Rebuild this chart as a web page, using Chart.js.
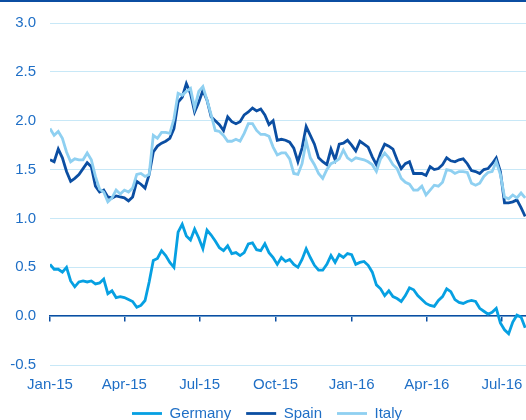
<!DOCTYPE html>
<html>
<head>
<meta charset="utf-8">
<script src="https://cdn.jsdelivr.net/npm/chart.js@4/dist/chart.umd.min.js"></script>
<style>
  html, body { margin: 0; padding: 0; background: #fff; }
  .wrap { position: relative; width: 526px; height: 420px; }
  .topbar { position: absolute; left: 0; top: 0; width: 526px; height: 2px; background: #0b4ea2; }
</style>
</head>
<body>
<div class="wrap">
  <canvas id="chart"></canvas>
  <div class="topbar"></div>
</div>
<script>
// days since 1 Jan 2015, one reading every 5 days
const days = [0,5,10,15,20,25,30,35,40,45,50,55,60,65,70,75,80,85,90,95,
  100,105,110,115,120,125,130,135,140,145,150,155,160,165,170,175,180,185,190,195,
  200,205,210,215,220,225,230,235,240,245,250,255,260,265,270,275,280,285,290,295,
  300,305,310,315,320,325,330,335,340,345,350,355,360,365,370,375,380,385,390,395,
  400,405,410,415,420,425,430,435,440,445,450,455,460,465,470,475,480,485,490,495,
  500,505,510,515,520,525,530,535,540,545,550,555,560,565,570,575];

const germany = [0.53,0.48,0.48,0.45,0.50,0.36,0.30,0.35,0.36,0.35,
  0.36,0.33,0.34,0.38,0.23,0.26,0.19,0.20,0.19,0.17,
  0.15,0.09,0.11,0.16,0.35,0.57,0.59,0.67,0.62,0.55,
  0.50,0.86,0.94,0.82,0.78,0.89,0.80,0.69,0.88,0.83,
  0.77,0.70,0.67,0.72,0.64,0.65,0.62,0.65,0.74,0.75,
  0.68,0.67,0.74,0.65,0.60,0.53,0.60,0.56,0.58,0.53,
  0.50,0.58,0.69,0.60,0.52,0.47,0.47,0.53,0.62,0.55,
  0.63,0.60,0.64,0.63,0.53,0.55,0.56,0.52,0.45,0.32,
  0.28,0.21,0.26,0.20,0.18,0.15,0.21,0.29,0.27,0.21,
  0.17,0.13,0.11,0.10,0.16,0.20,0.28,0.25,0.17,0.14,
  0.13,0.15,0.16,0.15,0.08,0.05,0.02,0.04,0.08,-0.07,
  -0.14,-0.18,-0.06,0.01,-0.01,-0.12];

const spain = [1.60,1.58,1.71,1.62,1.48,1.38,1.41,1.45,1.51,1.57,
  1.53,1.33,1.27,1.29,1.22,1.21,1.23,1.22,1.21,1.18,
  1.22,1.38,1.35,1.31,1.45,1.68,1.74,1.77,1.79,1.82,
  1.92,2.19,2.24,2.38,2.28,2.09,2.19,2.31,2.21,2.04,
  2.00,1.96,1.90,2.04,1.99,1.97,1.99,2.06,2.09,2.13,
  2.10,2.12,2.06,1.96,2.00,1.80,1.81,1.80,1.78,1.72,
  1.58,1.72,1.94,1.85,1.76,1.62,1.58,1.55,1.71,1.60,
  1.76,1.77,1.80,1.75,1.69,1.79,1.76,1.73,1.63,1.55,
  1.67,1.76,1.74,1.71,1.60,1.51,1.56,1.58,1.46,1.46,
  1.46,1.44,1.53,1.50,1.51,1.55,1.62,1.59,1.58,1.60,
  1.61,1.56,1.49,1.48,1.46,1.50,1.51,1.56,1.62,1.48,
  1.16,1.16,1.17,1.19,1.11,1.02];

const italy = [1.92,1.85,1.89,1.82,1.68,1.58,1.61,1.60,1.60,1.67,
  1.60,1.43,1.30,1.27,1.17,1.21,1.29,1.25,1.29,1.27,
  1.31,1.45,1.46,1.43,1.45,1.85,1.82,1.88,1.88,1.87,
  2.02,2.28,2.26,2.30,2.33,2.13,2.30,2.35,2.21,2.06,
  1.90,1.89,1.85,1.79,1.79,1.81,1.79,1.87,1.97,1.97,
  1.90,1.86,1.86,1.84,1.73,1.65,1.67,1.67,1.61,1.46,
  1.45,1.56,1.79,1.62,1.55,1.46,1.41,1.50,1.56,1.58,
  1.61,1.70,1.62,1.59,1.62,1.61,1.60,1.58,1.55,1.48,
  1.61,1.67,1.62,1.55,1.51,1.41,1.37,1.35,1.29,1.29,
  1.33,1.24,1.29,1.34,1.33,1.37,1.50,1.49,1.46,1.48,
  1.48,1.47,1.36,1.34,1.36,1.43,1.47,1.48,1.58,1.45,
  1.22,1.20,1.24,1.21,1.26,1.21];

const tickDays = [0, 90, 181, 273, 365, 456, 547];
const tickLabels = ['Jan-15', 'Apr-15', 'Jul-15', 'Oct-15', 'Jan-16', 'Apr-16', 'Jul-16'];

const blueText = '#1f6fc6';
const darkBlue = '#0b4ea2';
const font = { family: 'Liberation Sans, Arial, sans-serif', size: 15 };

function toPoints(vals) {
  return vals.map((v, i) => ({ x: days[i], y: v }));
}

function setMonthTicks(scale) {
  scale.ticks = tickDays.map(d => ({ value: d }));
}

const line = (label, vals, color, order) => ({
  label: label,
  data: toPoints(vals),
  borderColor: color,
  backgroundColor: color,
  borderWidth: 2.8,
  pointRadius: 0,
  tension: 0,
  order: order
});

// legend gets a fixed height so the plot keeps its size
const legendHeight = {
  id: 'legendHeight',
  beforeInit(chart) {
    const fit = chart.legend.fit;
    chart.legend.fit = function () {
      fit.bind(chart.legend)();
      this.height = 29;
    };
  }
};

new Chart(document.getElementById('chart'), {
  type: 'line',
  data: {
    datasets: [
      line('Germany', germany, '#06a0e2', 2),
      line('Spain', spain, darkBlue, 1),
      line('Italy', italy, '#8fd0f1', 0)
    ]
  },
  plugins: [legendHeight],
  options: {
    responsive: true,
    maintainAspectRatio: false,
    animation: false,
    layout: { padding: { left: 8, top: 21, right: 0, bottom: 0 } },
    plugins: {
      tooltip: { enabled: false },
      legend: {
        position: 'bottom',
        labels: {
          usePointStyle: true,
          pointStyle: 'line',
          pointStyleWidth: 30,
          boxWidth: 30,
          color: blueText,
          font: font,
          padding: 15,
          sort: (a, b) => a.datasetIndex - b.datasetIndex
        }
      }
    },
    scales: {
      x: {
        type: 'linear',
        min: 0,
        max: 576,
        position: { y: 0 },
        afterBuildTicks: setMonthTicks,
        ticks: { display: false },
        grid: { drawOnChartArea: false, drawTicks: true, tickLength: 5, color: darkBlue, lineWidth: 1.5, z: -1 },
        border: { color: darkBlue, width: 1.5 }
      },
      x2: {
        type: 'linear',
        position: 'bottom',
        min: 0,
        max: 576,
        afterBuildTicks: setMonthTicks,
        afterFit: s => { s.height = 26; s.paddingLeft = 0; s.paddingRight = 0; },
        ticks: {
          color: blueText,
          font: font,
          padding: 11,
          maxRotation: 0,
          autoSkip: false,
          callback: (v, i) => tickLabels[i]
        },
        grid: { display: false, drawTicks: false },
        border: { display: false }
      },
      y: {
        min: -0.5,
        max: 3.0,
        afterFit: s => { s.width = 42; },
        ticks: {
          stepSize: 0.5,
          color: blueText,
          font: font,
          padding: 14,
          callback: v => v.toFixed(1)
        },
        grid: { color: '#c8e8f7', lineWidth: 1, drawTicks: false },
        border: { display: false }
      }
    }
  }
});
</script>
</body>
</html>
